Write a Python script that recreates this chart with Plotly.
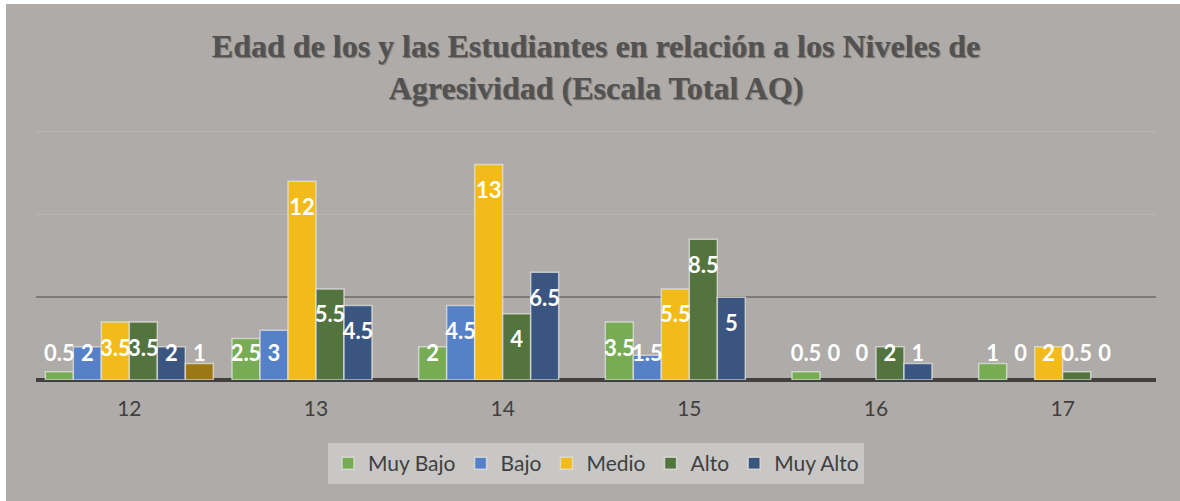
import plotly.graph_objects as go

# ---- data ----
categories = [12, 13, 14, 15, 16, 17]
tick_labels = ["12", "13", "14", "15", "16", "17"]
muy_bajo = [0.5, 2.5, 2, 3.5, 0.5, 1]
bajo = [2, 3, 4.5, 1.5, 0, 0]
medio = [3.5, 12, 13, 5.5, 0, 2]
alto = [3.5, 5.5, 4, 8.5, 2, 0.5]
muy_alto = [2, 4.5, 6.5, 5, 1, 0]
serie6 = [1, None, None, None, None, None]

series_names = ["Muy Bajo", "Bajo", "Medio", "Alto", "Muy Alto", "Serie 6"]
series_values = [muy_bajo, bajo, medio, alto, muy_alto, serie6]
series_colors = ["#77AC55", "#5681C8", "#F2BB1A", "#53733F", "#3A5580", "#9C7815"]
series_legend = [True, True, True, True, True, False]

title_text = ("Edad de los y las Estudiantes en relación a los Niveles de"
              "<br>Agresividad (Escala Total AQ)")

# ---- geometry ----
W, H = 1180, 501
ML, MR, MT, MB = 36, 24, 129, 121
PW, PH = W - ML - MR, H - MT - MB
Y_MAX = 15.15
BARGAP = 0.1
n_series = len(series_values)
bar_w = (1 - BARGAP) / n_series
ppu = PH / Y_MAX  # pixels per unit

fig = go.Figure()

for k, (name, vals, col, leg) in enumerate(zip(series_names, series_values,
                                               series_colors, series_legend)):
    fig.add_trace(go.Bar(
        x=categories, y=vals, name=name, showlegend=leg,
        marker=dict(color=col,
                    line=dict(color="rgba(225,225,222,0.75)",
                              width=[0 if not v else 1.5 for v in vals])),
        hoverinfo="skip",
    ))

# data labels (Excel "inside end", pushed up when the bar is too short)
for k, vals in enumerate(series_values):
    xs, ys, txt = [], [], []
    for c, v in zip(categories, vals):
        if v is None:
            continue
        xs.append(c + (k - (n_series - 1) / 2) * bar_w)
        ys.append(max(v - 28 / ppu, 25 / ppu))
        txt.append(f"{v:g}")
    fig.add_trace(go.Scatter(
        x=xs, y=ys, text=txt, mode="text", showlegend=False, hoverinfo="skip",
        textfont=dict(family="Lato", size=22, color="white", weight="bold"),
        cliponaxis=False,
    ))

bg = "#AEABA9"

def px_x(p):
    return (p - ML) / PW

def px_y(p):
    return (H - MB - p) / PH

fig.add_shape(type="rect", xref="paper", yref="paper",
              x0=px_x(6), x1=px_x(W + 2), y0=px_y(H + 2), y1=px_y(4),
              fillcolor=bg, line=dict(width=0), layer="below")

fig.update_layout(
    width=W, height=H,
    margin=dict(l=ML, r=MR, t=MT, b=MB, pad=0),
    paper_bgcolor="white", plot_bgcolor=bg,
    barmode="group", bargap=BARGAP, bargroupgap=0,
    title=dict(text=title_text, x=0.5, xref="paper", xanchor="center",
               y=1 - 57 / H, yref="container", yanchor="top",
               font=dict(family="Liberation Serif", size=32, color="#525252",
                         weight="bold", shadow="1px 1px 1px rgba(0,0,0,0.35)")),
    xaxis=dict(range=[categories[0] - 0.5, categories[-1] + 0.5],
               tickvals=categories, ticktext=tick_labels, showgrid=False,
               zeroline=False, showline=False, ticks="",
               tickfont=dict(family="Lato", size=21, color="#404040"),
               ticklabelstandoff=14, fixedrange=True),
    yaxis=dict(range=[0, Y_MAX], tickmode="array", tickvals=[5], showticklabels=False,
               showgrid=True, gridcolor="#7D7B79", gridwidth=2,
               minor=dict(tickmode="array", tickvals=[10, 15], showgrid=True,
                          gridcolor="#B8B6B3", gridwidth=1, ticks=""),
               zeroline=True, zerolinecolor="#404040", zerolinewidth=4,
               showline=False, ticks="", fixedrange=True),
    legend=dict(orientation="h", x=0.5, xanchor="center", y=px_y(443), yanchor="top",
                bgcolor="#C8C7C5", font=dict(family="Lato", size=21, color="#404040"),
                itemwidth=30, traceorder="normal"),
    showlegend=True,
)

fig.write_html("out.html", config={"displayModeBar": False},
               post_script="document.body.style.margin='0';"
               "document.body.style.overflow='hidden';")
